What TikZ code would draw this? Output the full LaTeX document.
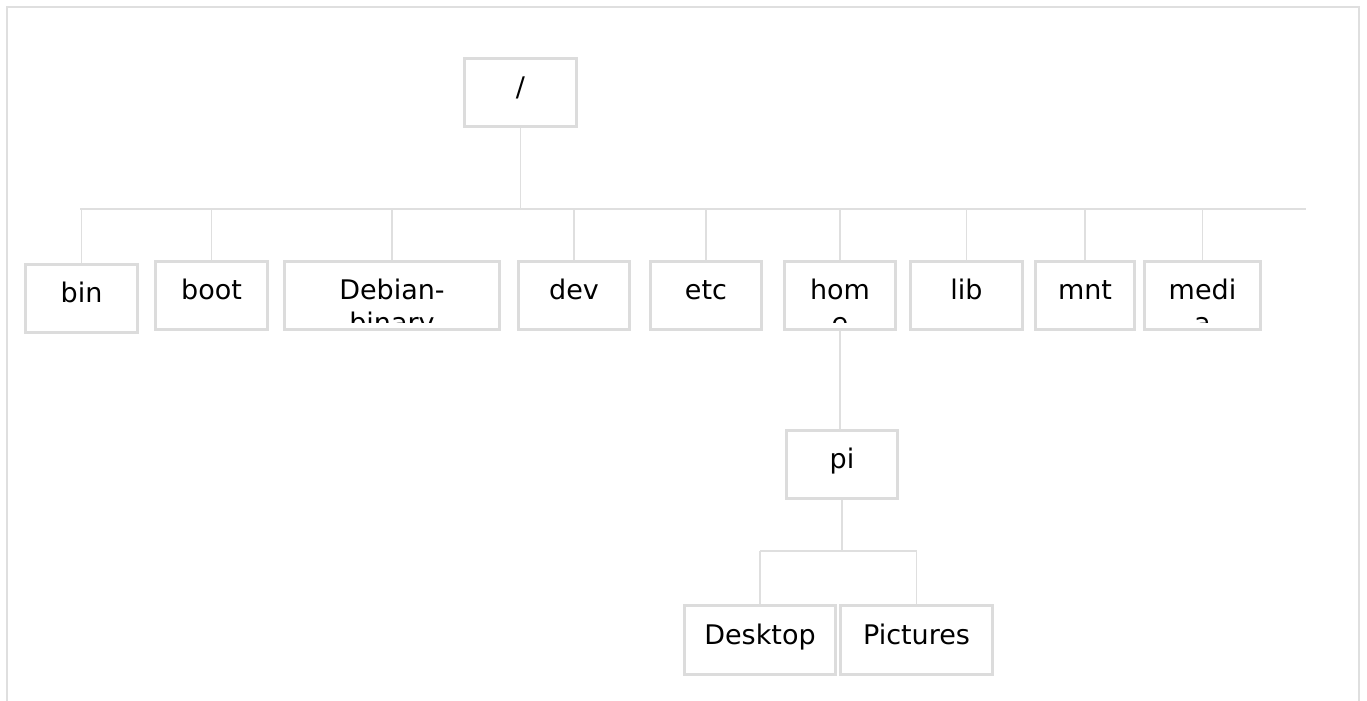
\documentclass[tikz,border=0pt]{standalone}
\usepackage{fontspec}
\setmainfont{DejaVu Sans}
\usetikzlibrary{positioning}
\definecolor{boxgray}{HTML}{DCDCDC}
\definecolor{wiregray}{HTML}{DFDFDF}

\begin{document}
\begin{tikzpicture}[x=0.75pt,y=-0.75pt,inner sep=0pt,
  dir/.style={draw=boxgray,line width=2.25pt,minimum width=84pt,minimum height=51pt,
    text height=12pt,text depth=6pt,font=\fontsize{20.25}{25}\selectfont},
  lbl/.style={draw=none,anchor=base,minimum width=0pt,minimum height=0pt,
    font=\fontsize{20.25}{25}\selectfont},
  cut/.style 2 args={path picture={
    \clip ([yshift=5.6pt]path picture bounding box.south west)
      rectangle (path picture bounding box.north east);
    \node[lbl] at ([yshift=-28.5pt]path picture bounding box.north) {#1};
    \node[lbl] at ([yshift=-53.3pt]path picture bounding box.north) {#2};}},
  wire/.style={draw=wiregray,line width=1.1pt}]
  \useasboundingbox (0,0) rectangle (1367,700);
  \draw[draw=wiregray,line width=1.9pt] (7,712) -- (7,7) -- (1359,7) -- (1359,712);

  \node[dir] (root) at (520.5,92.5) {/};
  \node[dir] (bin) at (81.5,298) {bin};
  \node[dir] (boot) [right=11.25pt of bin,yshift=1.9pt] {boot};
  \node[dir,minimum width=161.25pt,cut={Debian-}{binary}] (deb) [right=10.5pt of boot] {};
  \node[dir,minimum width=83.25pt] (dev) [right=12pt of deb] {dev};
  \node[dir,minimum width=83.25pt] (etc) [right=13.5pt of dev] {etc};
  \node[dir,minimum width=83.25pt,cut={hom}{e}] (home) [right=15pt of etc] {};
  \node[dir] (lib) [right=9pt of home] {lib};
  \node[dir,minimum width=74.25pt] (mnt) [right=7.5pt of lib] {mnt};
  \node[dir,minimum width=87pt,cut={medi}{a}] (media) [right=5.25pt of mnt] {};
  \node[dir,minimum width=83.25pt] (pi) at (842,464) {pi};
  \node[dir,minimum width=113.25pt,minimum height=52pt] (desk) at (760,640) {Desktop};
  \node[dir,minimum width=114pt,minimum height=52pt] (pics) [right=1.5pt of desk] {Pictures};

  \coordinate (busl) at (80,209);
  \coordinate (busr) at (1306,209);
  \draw[wire] (busl) -- (busr);
  \draw[wire] (root) -- (root |- busl);
  \foreach \d in {bin,boot,deb,dev,etc,home,lib,mnt,media}
    \draw[wire] (\d) -- (\d |- busl);
  \draw[wire] (home) -- (home |- pi.north);
  \coordinate (pil) at (760,551);
  \coordinate (pir) at (916.5,551);
  \draw[wire] (pi) -- (pi |- pil);
  \draw[wire] (pil) -- (pir);
  \draw[wire] (desk) -- (desk |- pil);
  \draw[wire] (pics) -- (pics |- pil);
\end{tikzpicture}
\end{document}
